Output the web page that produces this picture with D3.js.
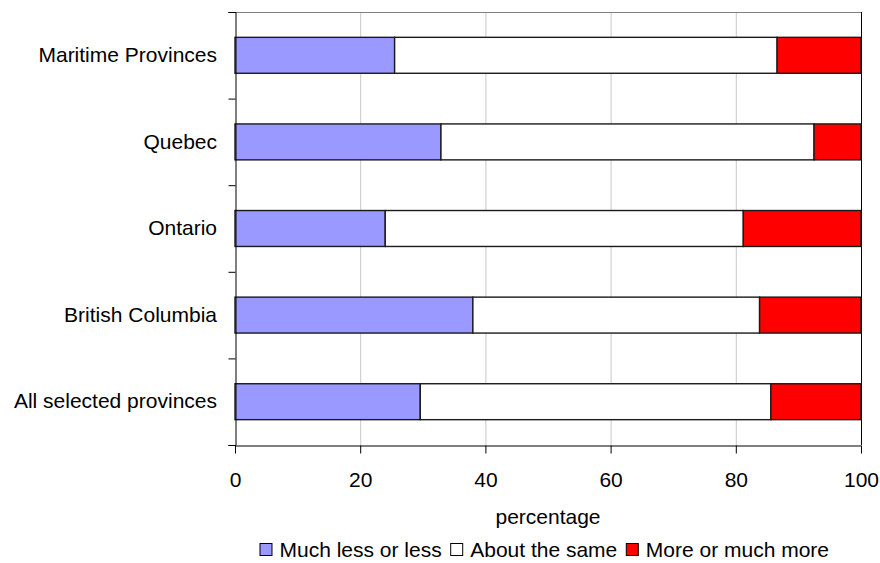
<!DOCTYPE html>
<html>
<head>
<meta charset="utf-8">
<script src="https://cdn.jsdelivr.net/npm/d3@7"></script>
<style>
  html, body { margin: 0; padding: 0; background: #fff; }
  svg { display: block; font-family: "Liberation Sans", Arial, sans-serif; }
</style>
</head>
<body>
<svg id="chart" width="880" height="563"></svg>
<script>
// Regions, top to bottom
const categories = ["Maritime Provinces", "Quebec", "Ontario", "British Columbia", "All selected provinces"];
// Share of respondents (percentage) in each answer group
const lessValues = [25.5, 32.9, 24.0, 38.0, 29.6];
const sameValues = [61.1, 59.6, 57.2, 45.8, 56.0];
const moreValues = [13.4, 7.5, 18.8, 16.2, 14.4];
const seriesNames = ["Much less or less", "About the same", "More or much more"];
const seriesColors = ["#9999ff", "#ffffff", "#ff0000"];
const xTicks = [0, 20, 40, 60, 80, 100];
const xTitle = "percentage";

const rows = categories.map((c, i) => ({
  region: c,
  [seriesNames[0]]: lessValues[i],
  [seriesNames[1]]: sameValues[i],
  [seriesNames[2]]: moreValues[i]
}));

const svg = d3.select("#chart");
const plot = { left: 235, right: 861, top: 12, bottom: 445 };
const fontSize = 21;

const x = d3.scaleLinear().domain([0, 100]).range([plot.left, plot.right]);
const y = d3.scaleBand().domain(categories).range([plot.top, plot.bottom])
  .paddingInner(0.585).paddingOuter(0.2925);
// Band boundaries for the category axis ticks
const yEdge = d3.scaleLinear().domain([0, categories.length]).range([plot.top, plot.bottom]);

// Vertical gridlines
svg.append("g")
  .selectAll("line")
  .data(xTicks.slice(1, -1))
  .join("line")
  .attr("x1", d => x(d) + 0.5).attr("x2", d => x(d) + 0.5)
  .attr("y1", plot.top).attr("y2", plot.bottom)
  .attr("stroke", "#c8c8c8").attr("stroke-width", 1);

// Plot area frame (top and right)
svg.append("line")
  .attr("x1", plot.left).attr("x2", plot.right)
  .attr("y1", plot.top + 0.5).attr("y2", plot.top + 0.5)
  .attr("stroke", "#808080");
svg.append("line")
  .attr("x1", plot.right + 0.5).attr("x2", plot.right + 0.5)
  .attr("y1", plot.top).attr("y2", plot.bottom)
  .attr("stroke", "#000");

// Stacked bars
const stack = d3.stack().keys(seriesNames);
const layers = stack(rows);
svg.append("g")
  .selectAll("g")
  .data(layers)
  .join("g")
  .attr("fill", (d, i) => seriesColors[i])
  .selectAll("rect")
  .data(d => d)
  .join("rect")
  .attr("x", d => x(d[0]))
  .attr("width", d => x(d[1]) - x(d[0]))
  .attr("y", d => y(d.data.region))
  .attr("height", y.bandwidth())
  .attr("stroke", "#1a1a1a")
  .attr("stroke-width", 1.4);

// Category axis: ticks on band edges, labels at band centres
const yTickAxis = d3.axisLeft(yEdge)
  .tickValues(d3.range(categories.length + 1))
  .tickSize(7)
  .tickFormat("");
svg.append("g")
  .attr("transform", `translate(${plot.left + 0.5},0)`)
  .call(yTickAxis)
  .call(g => g.select(".domain").attr("stroke", "#000"))
  .call(g => g.selectAll(".tick line").attr("stroke", "#000"));

svg.append("g")
  .attr("transform", `translate(${plot.left},0)`)
  .call(d3.axisLeft(y).tickSize(0).tickPadding(18))
  .call(g => g.select(".domain").remove())
  .call(g => g.selectAll("text")
    .attr("font-size", fontSize)
    .attr("font-family", "Liberation Sans, Arial, sans-serif")
    .attr("fill", "#000"));

// Value axis
svg.append("g")
  .attr("transform", `translate(0,${plot.bottom + 0.5})`)
  .call(d3.axisBottom(x).tickValues(xTicks).tickSize(8).tickPadding(19).tickSizeOuter(0))
  .call(g => g.select(".domain").attr("stroke", "#000"))
  .call(g => g.selectAll(".tick line").attr("stroke", "#000"))
  .call(g => g.selectAll("text")
    .attr("font-size", fontSize)
    .attr("font-family", "Liberation Sans, Arial, sans-serif")
    .attr("fill", "#000"));

svg.append("text")
  .attr("x", (plot.left + plot.right) / 2)
  .attr("y", 524)
  .attr("text-anchor", "middle")
  .attr("font-size", fontSize)
  .text(xTitle);

// Legend
const legend = svg.append("g").attr("transform", "translate(0,557)");
const items = legend.selectAll("g").data(seriesNames).join("g");
items.append("rect")
  .attr("x", 0.5).attr("y", -13.5).attr("width", 12).attr("height", 12)
  .attr("fill", (d, i) => seriesColors[i])
  .attr("stroke", "#000").attr("stroke-width", 1);
items.append("text")
  .attr("x", 20)
  .attr("font-size", fontSize)
  .text(d => d);
const gap = 9;
const widths = items.nodes().map(n => n.getBBox().width);
const total = d3.sum(widths) + gap * (widths.length - 1);
let startX = 544 - total / 2;
items.attr("transform", (d, i) => {
  const tx = startX;
  startX += widths[i] + gap;
  return `translate(${tx},0)`;
});
</script>
</body>
</html>
